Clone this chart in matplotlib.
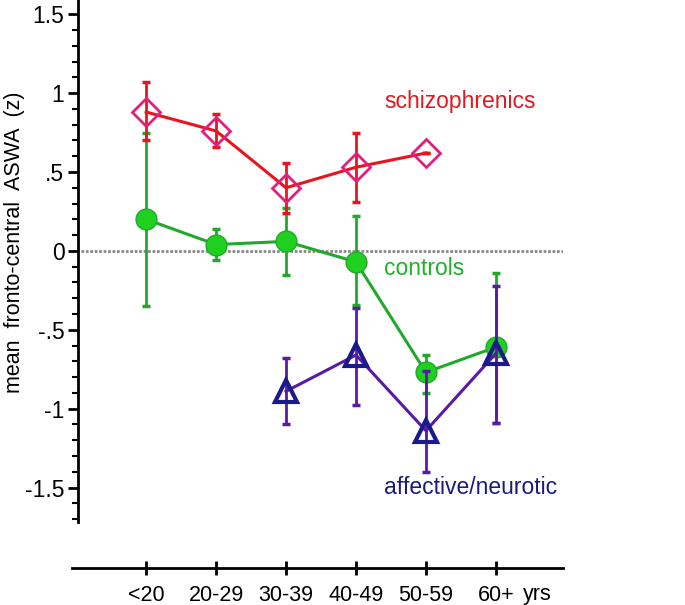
import matplotlib.pyplot as plt
import numpy as np

plt.rcParams['font.family'] = ['Liberation Sans', 'DejaVu Sans']

ages = ['<20', '20-29', '30-39', '40-49', '50-59', '60+']

# schizophrenics: mean, upper and lower end of error bar
schiz_x = [0, 1, 2, 3, 4]
schiz_y = [0.88, 0.76, 0.40, 0.53, 0.62]
schiz_hi = [1.07, 0.87, 0.56, 0.75, 0.62]
schiz_lo = [0.70, 0.66, 0.24, 0.31, 0.62]

# controls
ctrl_x = [0, 1, 2, 3, 4, 5]
ctrl_y = [0.20, 0.04, 0.06, -0.07, -0.77, -0.61]
ctrl_hi = [0.75, 0.14, 0.27, 0.22, -0.66, -0.14]
ctrl_lo = [-0.35, -0.06, -0.15, -0.34, -0.90, -1.09]

# affective/neurotic
aff_x = [2, 3, 4, 5]
aff_y = [-0.89, -0.66, -1.14, -0.65]
aff_hi = [-0.68, -0.36, -0.76, -0.22]
aff_lo = [-1.10, -0.98, -1.40, -1.09]

fig = plt.figure(figsize=[6.85, 6.05], dpi=100)
ax = fig.add_axes([72/685, 37/605, (563-72)/685, 568/605])

ax.axhline(0, color='#8a8a8a', lw=2, ls=(0, (1, 0.6)), zorder=1)

def errs(y, hi, lo):
    y = np.array(y); return [y - np.array(lo), np.array(hi) - y]

# green
ax.errorbar(ctrl_x, ctrl_y, yerr=errs(ctrl_y, ctrl_hi, ctrl_lo), fmt='none',
            ecolor='#22a82a', elinewidth=2, capsize=3, capthick=2.5, zorder=2)
ax.plot(ctrl_x, ctrl_y, '-', color='#22a82a', lw=2.2, zorder=3)
ax.plot(ctrl_x, ctrl_y, 'o', ms=15, mfc='#1fd01f', mec='#22a82a', mew=1, zorder=4)

# red
ax.errorbar(schiz_x, schiz_y, yerr=errs(schiz_y, schiz_hi, schiz_lo), fmt='none',
            ecolor='#e8141e', elinewidth=2, capsize=3, capthick=2.5, zorder=5)
ax.plot(schiz_x, schiz_y, '-', color='#e8141e', lw=2.2, zorder=6)
ax.plot(schiz_x, schiz_y, 'D', ms=14, mfc='none', mec='#e0207a', mew=2, zorder=7)

# purple / blue
ax.errorbar(aff_x, aff_y, yerr=errs(aff_y, aff_hi, aff_lo), fmt='none',
            ecolor='#5a1aa8', elinewidth=2, capsize=3, capthick=2.5, zorder=5)
ax.plot(aff_x, aff_y, '-', color='#5a1aa8', lw=2.2, zorder=6)
ax.plot(aff_x, aff_y, '^', ms=16, mfc='none', mec='#1a1a8c', mew=3, zorder=7)

ax.text(3.4, 0.945, 'schizophrenics', color='#e01a22', fontsize=16.5, va='center')
ax.text(3.4, -0.11, 'controls', color='#22b02a', fontsize=16.5, va='center')
ax.text(3.4, -1.50, 'affective/neurotic', color='#1a1a80', fontsize=16.5, va='center')

ax.set_xlim(-1.06, 5.96)
ax.set_ylim(-2.01, 1.59)

for s in ['top', 'right']:
    ax.spines[s].set_visible(False)
ax.spines['left'].set_position(('data', -0.97))
ax.spines['left'].set_bounds(-1.72, 1.59)
ax.spines['left'].set_linewidth(2)
ax.spines['bottom'].set_linewidth(2)

ax.set_yticks([-1.5, -1, -0.5, 0, 0.5, 1, 1.5])
ax.set_yticklabels(['-1.5', '-1', '-.5', '0', '.5', '1', '1.5'])
ax.set_yticks(np.arange(-1.7, 1.6, 0.1), minor=True)
ax.tick_params(axis='y', which='major', direction='out', length=7, width=2,
               labelsize=16.5, pad=3)
ax.tick_params(axis='y', which='minor', direction='out', length=4, width=1.5)

ax.set_xticks(range(6))
ax.set_xticklabels(ages)
ax.tick_params(axis='x', direction='inout', length=10, width=2, labelsize=15.5, pad=7)
ax.text(5.39, -2.11, 'yrs', fontsize=15.5, va='top', ha='left')

fig.text(0.021, 0.60, 'mean  fronto-central  ASWA  (z)', rotation=90, fontsize=15.5,
         va='center', ha='center')

fig.savefig('out.png', dpi=100)
